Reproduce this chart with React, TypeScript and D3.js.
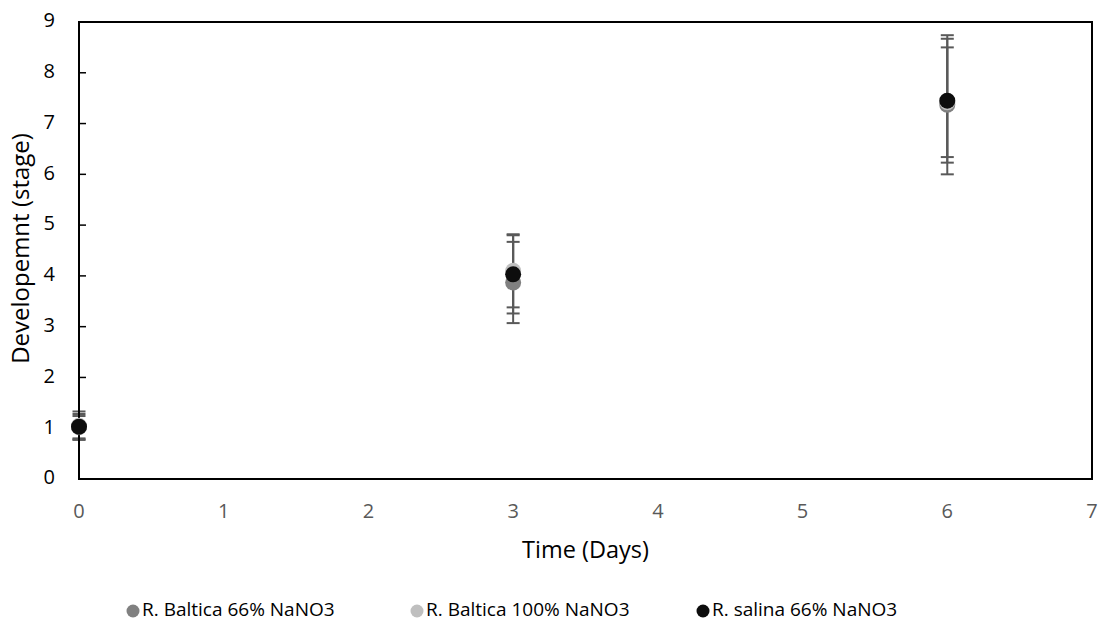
import * as d3 from "d3";

type Point = { x: number; y: number; err: number };

const days = [0, 3, 6];
const baltica66 = [1.02, 3.87, 7.37];
const baltica66Err = [0.22, 0.8, 1.37];
const baltica100 = [1.05, 4.1, 7.42];
const baltica100Err = [0.28, 0.72, 1.08];
const salina66 = [1.03, 4.03, 7.45];
const salina66Err = [0.25, 0.77, 1.22];

const seriesNames = ["R. Baltica 66% NaNO3", "R. Baltica 100% NaNO3", "R. salina 66% NaNO3"];
const colors = ["#808080", "#bfbfbf", "#0d0d0d"];

const xTicks = [0, 1, 2, 3, 4, 5, 6, 7];
const yTicks = [0, 1, 2, 3, 4, 5, 6, 7, 8, 9];

const WIDTH = 1099;
const HEIGHT = 629;
const MARGIN = { left: 79, right: 7, top: 22, bottom: 150 };
const FONT = "'Open Sans', 'Noto Sans', sans-serif";

const toPoints = (vals: number[], errs: number[]): Point[] =>
  days.map((d, i) => ({ x: d, y: vals[i], err: errs[i] }));

const series = [
  toPoints(baltica66, baltica66Err),
  toPoints(baltica100, baltica100Err),
  toPoints(salina66, salina66Err),
];

export default function App() {
  const x = d3.scaleLinear().domain([0, 7]).range([MARGIN.left, WIDTH - MARGIN.right]);
  const y = d3.scaleLinear().domain([0, 9]).range([HEIGHT - MARGIN.bottom, MARGIN.top]);
  const capW = 6.5;

  return (
    <svg
      width={WIDTH}
      height={HEIGHT}
      style={{ position: "absolute", left: 0, top: 0, fontFamily: FONT }}
    >
      <rect width={WIDTH} height={HEIGHT} fill="#fff" />

      {/* y tick labels and inner ticks */}
      {yTicks.map((t) => (
        <g key={"y" + t}>
          <line x1={x(0)} x2={x(0) + 7} y1={y(t)} y2={y(t)} stroke="#000" strokeWidth={1.5} />
          <text x={x(0) - 24} y={y(t)} textAnchor="end" dominantBaseline="middle" fontSize={20} fill="#000">
            {t}
          </text>
        </g>
      ))}

      {/* x tick labels */}
      {xTicks.map((t) => (
        <text key={"x" + t} x={x(t)} y={y(0) + 39} textAnchor="middle" fontSize={20} fill="#595959">
          {t}
        </text>
      ))}

      {/* error bars */}
      {series.map((pts, si) =>
        pts.map((p, i) => (
          <g key={`e${si}-${i}`} stroke="#595959" strokeWidth={2}>
            <line x1={x(p.x)} x2={x(p.x)} y1={y(p.y + p.err)} y2={y(p.y - p.err)} />
            <line x1={x(p.x) - capW} x2={x(p.x) + capW} y1={y(p.y + p.err)} y2={y(p.y + p.err)} />
            <line x1={x(p.x) - capW} x2={x(p.x) + capW} y1={y(p.y - p.err)} y2={y(p.y - p.err)} />
          </g>
        ))
      )}

      {/* frame */}
      <rect
        x={x(0)}
        y={y(9)}
        width={x(7) - x(0)}
        height={y(0) - y(9)}
        fill="none"
        stroke="#000"
        strokeWidth={2}
      />

      {/* markers */}
      {series.map((pts, si) =>
        pts.map((p, i) => (
          <circle key={`m${si}-${i}`} cx={x(p.x)} cy={y(p.y)} r={8} fill={colors[si]} />
        ))
      )}

      {/* axis titles */}
      <text x={(x(0) + x(7)) / 2} y={558} textAnchor="middle" fontSize={23.5} fill="#000">
        Time (Days)
      </text>
      <text
        transform={`translate(29, ${(y(0) + y(9)) / 2 - 2}) rotate(-90)`}
        textAnchor="middle"
        fontSize={24}
        fill="#000"
      >
        Developemnt (stage)
      </text>

      {/* legend */}
      {seriesNames.map((name, i) => {
        const lx = [133, 417, 703][i];
        return (
          <g key={"l" + i}>
            <circle cx={lx} cy={611} r={6.5} fill={colors[i]} />
            <text x={lx + 9} y={611} dominantBaseline="middle" fontSize={19} fill="#000">
              {name}
            </text>
          </g>
        );
      })}
    </svg>
  );
}
